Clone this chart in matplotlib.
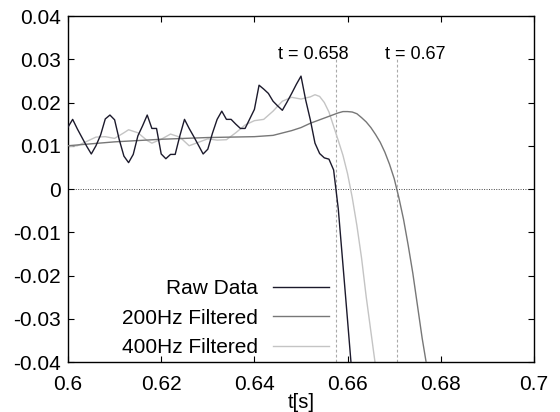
import numpy as np
import matplotlib
matplotlib.use('Agg')
import matplotlib.pyplot as plt

plt.rcParams['font.family'] = ['Liberation Sans', 'DejaVu Sans']

# raw signal, sampled every 1 ms from t = 0.600 s
raw_t0 = 0.600
raw_dt = 0.001
raw_y = [0.0143, 0.0161, 0.0139, 0.0119, 0.0099, 0.0081, 0.0100, 0.0125, 0.0162, 0.0171,
         0.0160, 0.0114, 0.0076, 0.0061, 0.0080, 0.0123, 0.0146, 0.0171, 0.0140, 0.0140,
         0.0081, 0.0070, 0.0080, 0.0080, 0.0123, 0.0161, 0.0140, 0.0121, 0.0101, 0.0081,
         0.0092, 0.0129, 0.0161, 0.0180, 0.0161, 0.0161, 0.0150, 0.0140, 0.0140, 0.0162,
         0.0184, 0.0240, 0.0231, 0.0221, 0.0203, 0.0192, 0.0182, 0.0201, 0.0221, 0.0242,
         0.0261, 0.0206, 0.0160, 0.0106, 0.0082, 0.0072, 0.0069, 0.0044, -0.0046, -0.0175,
         -0.0305, -0.0437]
raw_t = raw_t0 + raw_dt * np.arange(len(raw_y))

# 200 Hz low-pass filtered
f200_t = [0.600, 0.610, 0.620, 0.630, 0.640, 0.644, 0.648, 0.650, 0.652, 0.654,
          0.656, 0.658, 0.659, 0.660, 0.661, 0.662, 0.663, 0.664, 0.665, 0.666,
          0.667, 0.668, 0.669, 0.670, 0.671, 0.672, 0.673, 0.674, 0.675, 0.676, 0.677]
f200_y = [0.0100, 0.0109, 0.0115, 0.0119, 0.0121, 0.0124, 0.0135, 0.0142, 0.0152, 0.0160,
          0.0168, 0.0176, 0.0179, 0.0179, 0.0178, 0.0174, 0.0165, 0.0155, 0.0142, 0.0126,
          0.0108, 0.0085, 0.0057, 0.0024, -0.0020, -0.0070, -0.0130, -0.0195, -0.0270,
          -0.0345, -0.0410]

# 400 Hz low-pass filtered
f400_t = [0.600, 0.602, 0.604, 0.606, 0.608, 0.610, 0.612, 0.613, 0.615, 0.617,
          0.618, 0.620, 0.622, 0.624, 0.626, 0.628, 0.630, 0.632, 0.634, 0.636,
          0.638, 0.640, 0.642, 0.644, 0.646, 0.648, 0.650, 0.652, 0.653, 0.654,
          0.655, 0.656, 0.657, 0.658, 0.659, 0.660, 0.661, 0.662, 0.663, 0.664,
          0.665, 0.666]
f400_y = [0.0098, 0.0100, 0.0110, 0.0120, 0.0121, 0.0117, 0.0130, 0.0137, 0.0130, 0.0112,
          0.0106, 0.0115, 0.0127, 0.0120, 0.0100, 0.0108, 0.0116, 0.0113, 0.0114, 0.0130,
          0.0148, 0.0158, 0.0161, 0.0180, 0.0203, 0.0212, 0.0208, 0.0213, 0.0218, 0.0214,
          0.0200, 0.0178, 0.0145, 0.0112, 0.0078, 0.0035, -0.0020, -0.0085, -0.0160, -0.0250,
          -0.0330, -0.0410]

# zero crossings marked on the chart
mark_t = [0.6575, 0.6705]
mark_labels = ['t = 0.658', 't = 0.67']
mark_text_x = [0.6526, 0.6745]

fig = plt.figure(figsize=(5.6, 4.12), dpi=100)
ax = fig.add_axes([68/560, 1-362/412, (534-68)/560, (362-16)/412])

ax.axhline(0, color='#444444', ls=(0, (1, 1.5)), lw=0.7, zorder=1)
ax.vlines(mark_t, -0.04, 0.03, color='#aaaaaa', ls=(0, (2.5, 2)), lw=0.8, zorder=1)
for x, s in zip(mark_text_x, mark_labels):
    ax.text(x, 0.031, s, ha='center', va='center', fontsize=13)

ax.plot(raw_t, raw_y, color='#1c1a2c', lw=1.0, label='Raw Data', zorder=4)
ax.plot(f200_t, f200_y, color='#777777', lw=1.0, label='200Hz Filtered', zorder=3)
ax.plot(f400_t, f400_y, color='#c4c4c4', lw=1.0, label='400Hz Filtered', zorder=2)

ax.set_xlim(0.6, 0.7)
ax.set_ylim(-0.04, 0.04)
ax.set_xticks(np.arange(0.6, 0.7001, 0.02))
ax.set_xticklabels(['0.6', '0.62', '0.64', '0.66', '0.68', '0.7'])
ax.set_yticks(np.arange(-0.04, 0.0401, 0.01))
ax.set_yticklabels(['-0.04', '-0.03', '-0.02', '-0.01', '0', '0.01', '0.02', '0.03', '0.04'])
ax.tick_params(direction='in', top=True, right=True, length=4, width=0.8,
               labelsize=15)
ax.tick_params(axis='x', pad=9)
ax.tick_params(axis='y', pad=5)
ax.set_xlabel('t[s]', fontsize=14.5, labelpad=0)
for sp in ax.spines.values():
    sp.set_linewidth(1.0)

ax.legend(loc='lower right', bbox_to_anchor=(0.561, 0.014), frameon=False,
          markerfirst=False, fontsize=15, handlelength=2.7, handletextpad=0.75,
          labelspacing=0.5, borderpad=0, borderaxespad=0)

plt.savefig('out.png', dpi=100)
